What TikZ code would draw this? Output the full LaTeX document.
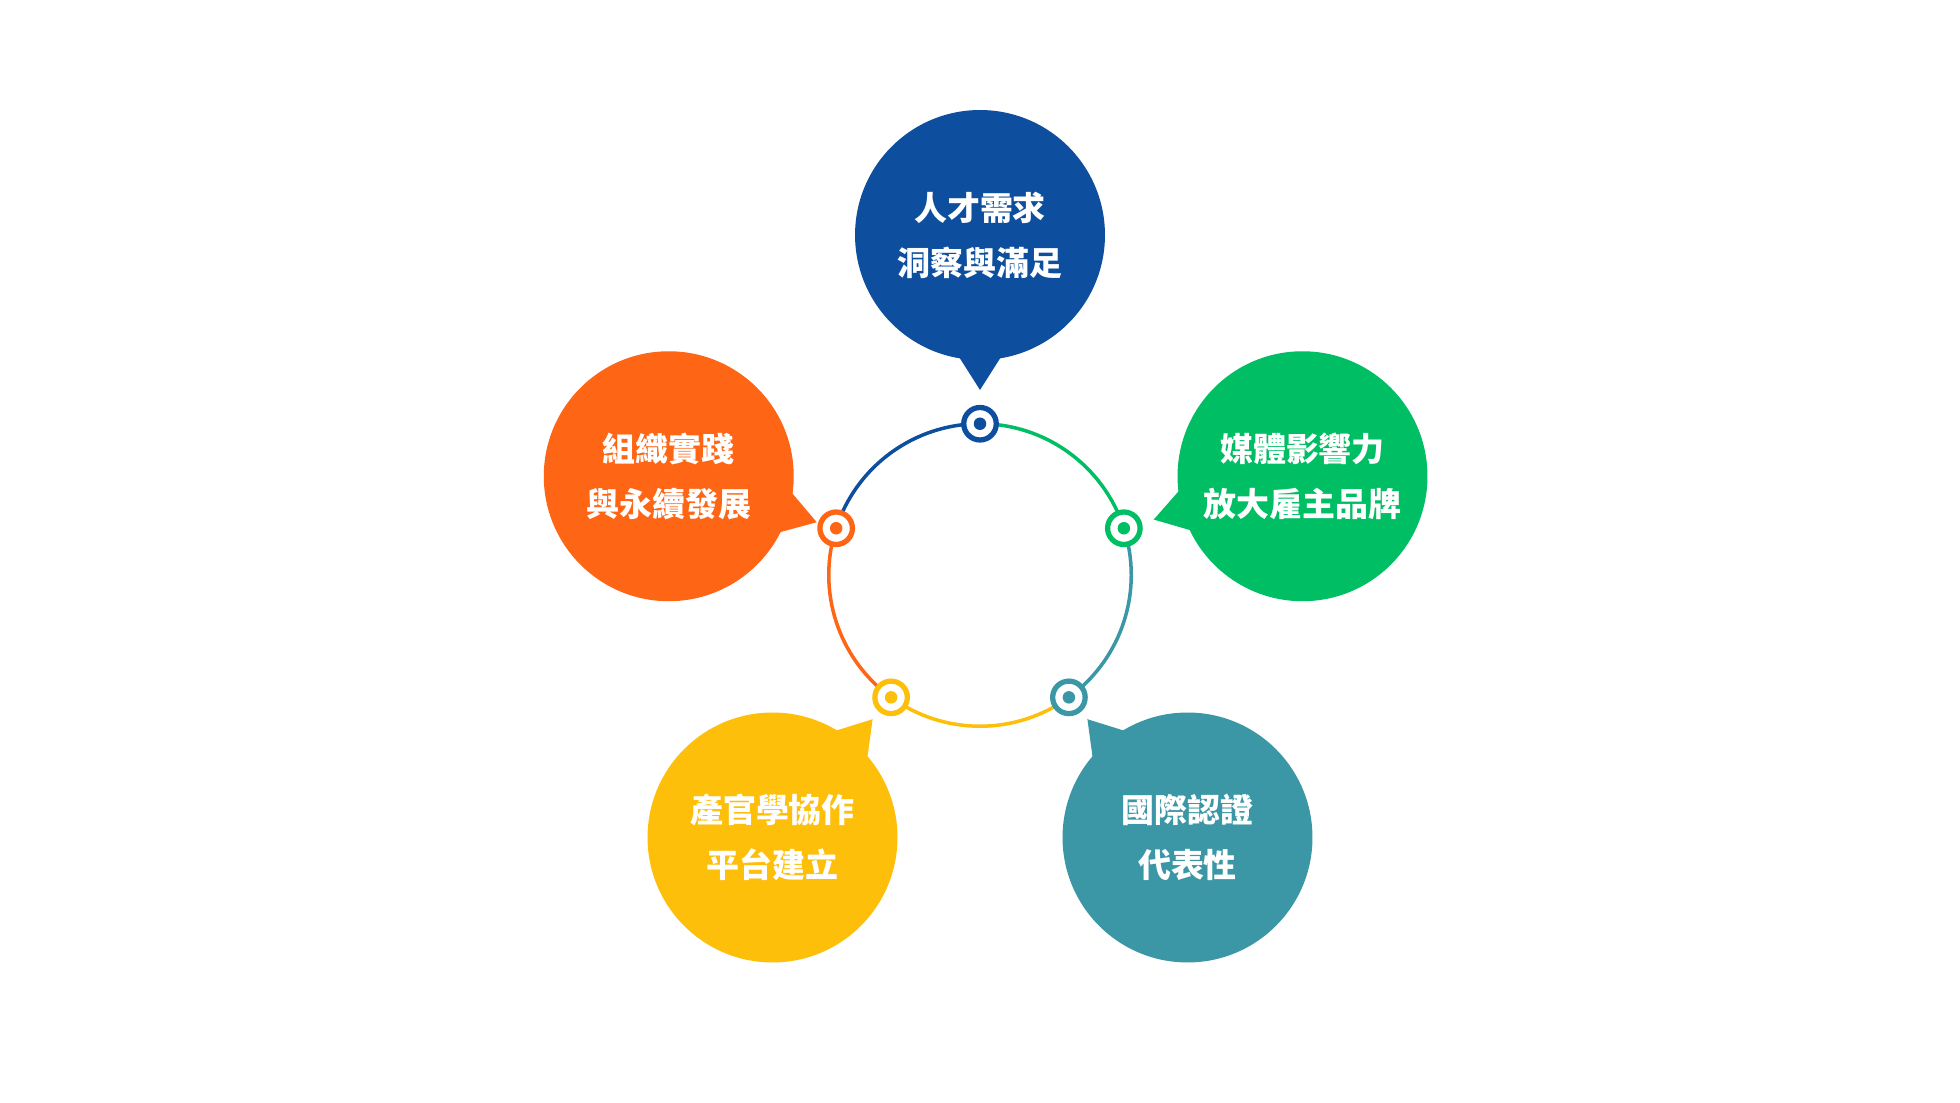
\documentclass[tikz,border=0pt]{standalone}
\usepackage{fontspec}
\newfontfamily\cjk{Noto Sans CJK TC}
\usetikzlibrary{positioning,calc}
\definecolor{cblue}{HTML}{0D4F9E}
\definecolor{cgreen}{HTML}{00BE63}
\definecolor{cteal}{HTML}{3B97A5}
\definecolor{cyellow}{HTML}{FDBF0A}
\definecolor{corange}{HTML}{FE6515}
\tikzset{
  bubble/.style={circle,fill=#1,minimum size=4cm,inner sep=0pt,text=white,
    align=center,font=\cjk\bfseries\fontsize{15}{25}\selectfont},
  marker/.style={circle,draw=#1,line width=2.4pt,fill=white,minimum size=0.52cm,inner sep=0pt},
  dot/.style={circle,fill=#1,minimum size=0.2cm,inner sep=0pt},
  ring/.style={line width=1.6pt,#1}
}
\begin{document}
\begin{tikzpicture}[x=0.02cm,y=0.02cm]
  \useasboundingbox (0,0) rectangle (1568,882);
  \coordinate (c) at (784,422);
  % ring segments
  \draw[ring=cgreen] (c) ++(90:121) arc (90:18:121);
  \draw[ring=cteal] (c) ++(18:121) arc (18:-54:121);
  \draw[ring=cyellow] (c) ++(-54:121) arc (-54:-126:121);
  \draw[ring=corange] (c) ++(-126:121) arc (-126:-198:121);
  \draw[ring=cblue] (c) ++(162:121) arc (162:90:121);
  % bubbles
  \node[bubble=cblue] (b1) at (784,694) {人才需求\\洞察與滿足};
  \node[bubble=cgreen] (b2) at (1042,501) {媒體影響力\\放大雇主品牌};
  \node[bubble=cteal] (b3) at (950,212) {國際認證\\代表性};
  \node[bubble=cyellow] (b4) at (618,212) {產官學協作\\平台建立};
  \node[bubble=corange] (b5) at (535,501) {組織實踐\\與永續發展};
  % markers
  \foreach \a/\col/\i in {90/cblue/1,18/cgreen/2,-54/cteal/3,-126/cyellow/4,162/corange/5}{
    \node[marker=\col] (m\i) at ($(c)+(\a:121)$) {};
    \node[dot=\col] at (m\i) {};
    \fill[\col] ($(b\i)!2.48cm!(m\i)$) -- ($(b\i)!1.9cm!12:(m\i)$)
      -- ($(b\i)!1.9cm!-12:(m\i)$) -- cycle;
  }
\end{tikzpicture}
\end{document}
